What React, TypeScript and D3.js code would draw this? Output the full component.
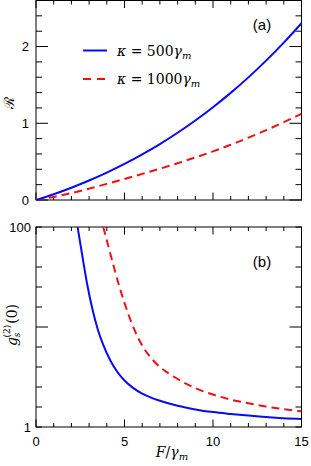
import React, { useRef, useEffect } from "react";
import * as d3 from "d3";

// panel (a): R vs F/gamma_m
const forceA = [0, 1, 2, 3, 4, 5, 6, 7, 8, 9, 10, 11, 12, 13, 14, 15];
const rK500 = [0, 0.075, 0.16, 0.254, 0.357, 0.47, 0.594, 0.729, 0.876, 1.036, 1.209, 1.396, 1.598, 1.816, 2.051, 2.304];
const rK1000 = [0, 0.04, 0.09, 0.148, 0.21, 0.274, 0.34, 0.408, 0.479, 0.554, 0.634, 0.72, 0.812, 0.91, 1.014, 1.124];

// panel (b): g2(0), log axis
const forceB500 = [2.35, 2.6, 2.9, 3.2, 3.5, 3.8, 4.2, 4.6, 5.0, 5.5, 6.0, 6.5, 7.0, 8.0, 9.0, 10.0, 11.0, 12.0, 13.0, 14.0, 15.0];
const g2K500 = [100, 53.7, 26.3, 14.8, 9.33, 6.61, 4.62, 3.55, 2.92, 2.45, 2.16, 1.97, 1.83, 1.63, 1.5, 1.41, 1.35, 1.3, 1.26, 1.22, 1.2];
const forceB1000 = [3.8, 4.1, 4.4, 4.7, 5.0, 5.4, 5.8, 6.2, 6.6, 7.0, 7.5, 8.0, 9.0, 10.0, 11.0, 12.0, 13.0, 14.0, 15.0];
const g2K1000 = [100, 63.1, 39.8, 25.7, 17.4, 11.0, 7.59, 5.75, 4.68, 3.98, 3.43, 3.02, 2.45, 2.11, 1.88, 1.73, 1.6, 1.51, 1.43];

const xTicks = [0, 5, 10, 15];
const yTicksA = [0, 1, 2];

const BLUE = "#0a0af0";
const RED = "#f01010";
const SANS = "'Liberation Sans', Arial, sans-serif";
const SERIF = "'DejaVu Serif', 'Liberation Serif', serif";

const App = () => {
  const ref = useRef<SVGSVGElement>(null);

  useEffect(() => {
    const svg = d3.select(ref.current);
    svg.selectAll("*").remove();

    const left = 36;
    const right = 301.5;
    const topA = 0.5;
    const botA = 200;
    const topB = 227;
    const botB = 427;

    const x = d3.scaleLinear().domain([0, 15]).range([left, right]);
    const yA = d3.scaleLinear().domain([0, 2.6]).range([botA, topA]);
    const yB = d3.scaleLog().domain([1, 100]).range([botB, topB]);

    const xMinor = d3.range(0, 16);

    const drawFrame = (top: number, bottom: number, id: string) => {
      svg
        .append("rect")
        .attr("x", left)
        .attr("y", top)
        .attr("width", right - left)
        .attr("height", bottom - top)
        .attr("fill", "none")
        .attr("stroke", "#000")
        .attr("stroke-width", 1);

      svg
        .append("clipPath")
        .attr("id", id)
        .append("rect")
        .attr("x", left)
        .attr("y", top)
        .attr("width", right - left)
        .attr("height", bottom - top);

      // x ticks bottom & top, inside
      xMinor.forEach((v) => {
        const len = v % 5 === 0 ? 7.5 : 4;
        svg.append("line").attr("x1", x(v)).attr("x2", x(v)).attr("y1", bottom).attr("y2", bottom - len)
          .attr("stroke", "#000").attr("stroke-width", 1);
        svg.append("line").attr("x1", x(v)).attr("x2", x(v)).attr("y1", top).attr("y2", top + len)
          .attr("stroke", "#000").attr("stroke-width", 1);
      });
    };

    const yTick = (py: number, major: boolean) => {
      const len = major ? 12 : 6;
      svg.append("line").attr("x1", left).attr("x2", left + len).attr("y1", py).attr("y2", py)
        .attr("stroke", "#000").attr("stroke-width", 1);
      svg.append("line").attr("x1", right).attr("x2", right - len).attr("y1", py).attr("y2", py)
        .attr("stroke", "#000").attr("stroke-width", 1);
    };

    // ---------- panel (a)
    drawFrame(topA, botA, "clipA");
    d3.range(0, 2.61, 0.2).forEach((v) => yTick(yA(v), Math.abs(v - Math.round(v)) < 1e-6));

    yTicksA.forEach((v) => {
      svg.append("text").attr("x", 29).attr("y", yA(v)).attr("dy", "0.36em")
        .attr("text-anchor", "end").style("font-family", SANS).style("font-size", "13px").text(v);
    });

    const lineA = (vals: number[]) =>
      d3.line<number>().x((d, i) => x(forceA[i])).y((d) => yA(d)).curve(d3.curveMonotoneX)(vals);

    const gA = svg.append("g").attr("clip-path", "url(#clipA)");
    gA.append("path").attr("d", lineA(rK1000)).attr("fill", "none").attr("stroke", RED)
      .attr("stroke-width", 2).attr("stroke-dasharray", "8,5");
    gA.append("path").attr("d", lineA(rK500)).attr("fill", "none").attr("stroke", BLUE)
      .attr("stroke-width", 2);

    svg.append("text").attr("x", 262).attr("y", 25).attr("dy", "0.36em").attr("text-anchor", "middle")
      .style("font-family", SANS).style("font-size", "15px").text("(a)");

    // legend
    const legend = [
      { label: "500", color: BLUE, dash: null, y: 50.5 },
      { label: "1000", color: RED, dash: "8,6", y: 79 },
    ];
    legend.forEach((l) => {
      svg.append("line").attr("x1", 83).attr("x2", 107).attr("y1", l.y).attr("y2", l.y)
        .attr("stroke", l.color).attr("stroke-width", 2).attr("stroke-dasharray", l.dash);
      const t = svg.append("text").attr("x", 117).attr("y", l.y + 5)
        .style("font-family", SERIF).style("font-size", "14px");
      t.append("tspan").style("font-style", "italic").text("κ");
      t.append("tspan").text(" = " + l.label);
      t.append("tspan").style("font-style", "italic").text("γ");
      t.append("tspan").style("font-style", "italic").style("font-size", "10px").attr("dy", 3).text("m");
    });

    svg.append("text")
      .attr("transform", `translate(14,103) rotate(-90)`)
      .attr("text-anchor", "middle")
      .style("font-family", SERIF).style("font-size", "14px").text("ℛ");

    // ---------- panel (b)
    drawFrame(topB, botB, "clipB");
    d3.range(0, 10.5, 1).forEach((k) => yTick(yB(Math.pow(10, k * 0.2)), k === 5));

    [1, 100].forEach((v) => {
      svg.append("text").attr("x", 31).attr("y", yB(v)).attr("dy", "0.36em")
        .attr("text-anchor", "end").style("font-family", SANS).style("font-size", "13px").text(v);
    });

    xTicks.forEach((v) => {
      svg.append("text").attr("x", x(v)).attr("y", 446).attr("text-anchor", "middle")
        .style("font-family", SANS).style("font-size", "13px").text(v);
    });

    const lineB = (fs: number[], vals: number[]) =>
      d3.line<number>().x((d, i) => x(fs[i])).y((d) => yB(d)).curve(d3.curveMonotoneX)(vals);

    const gB = svg.append("g").attr("clip-path", "url(#clipB)");
    gB.append("path").attr("d", lineB(forceB1000, g2K1000)).attr("fill", "none").attr("stroke", RED)
      .attr("stroke-width", 2).attr("stroke-dasharray", "8,5");
    gB.append("path").attr("d", lineB(forceB500, g2K500)).attr("fill", "none").attr("stroke", BLUE)
      .attr("stroke-width", 2);

    svg.append("text").attr("x", 262).attr("y", 262).attr("dy", "0.36em").attr("text-anchor", "middle")
      .style("font-family", SANS).style("font-size", "15px").text("(b)");

    // y label g_s^(2)(0)
    const yl = svg.append("text")
      .attr("transform", `translate(17,325) rotate(-90)`)
      .attr("text-anchor", "middle")
      .style("font-family", SERIF).style("font-size", "14px");
    yl.append("tspan").style("font-style", "italic").text("g");
    yl.append("tspan").style("font-style", "italic").style("font-size", "9px").attr("dy", 3).text("s");
    yl.append("tspan").style("font-size", "9px").attr("dx", -5).attr("dy", -10).text("(2)");
    yl.append("tspan").attr("dy", 7).attr("dx", 1).text("(0)");

    // x label F/gamma_m
    const xl = svg.append("text").attr("x", 172).attr("y", 457).attr("text-anchor", "middle")
      .style("font-family", SERIF).style("font-size", "14px");
    xl.append("tspan").style("font-style", "italic").text("F");
    xl.append("tspan").text("/");
    xl.append("tspan").style("font-style", "italic").text("γ");
    xl.append("tspan").style("font-style", "italic").style("font-size", "10px").attr("dy", 3).text("m");
  }, []);

  return (
    <svg
      ref={ref}
      width={311}
      height={466}
      style={{ position: "absolute", left: 0, top: 0, background: "#fff" }}
    />
  );
};

export default App;
